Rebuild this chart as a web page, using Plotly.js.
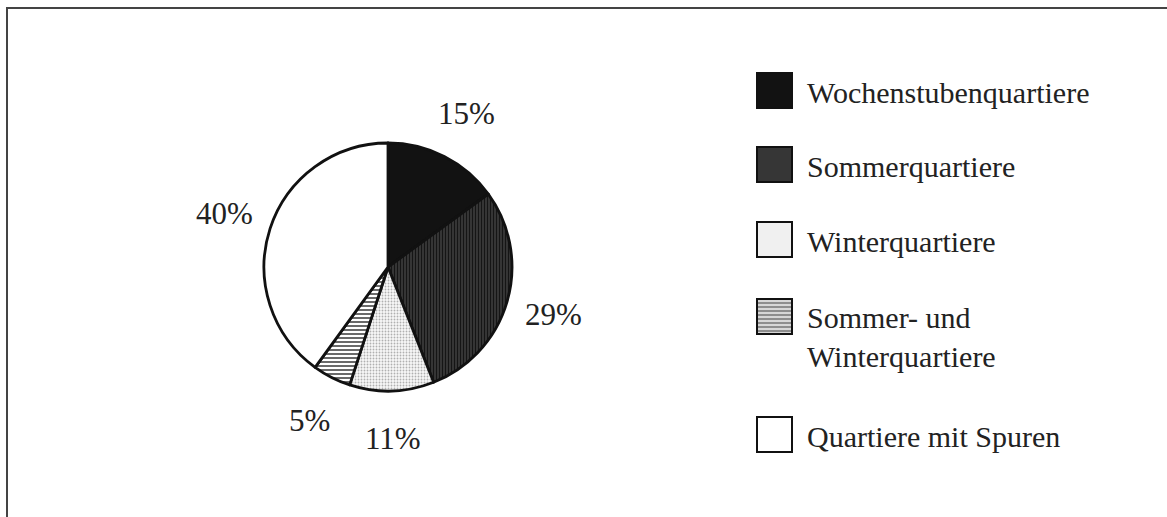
<!DOCTYPE html>
<html>
<head>
<meta charset="utf-8">
<script src="https://cdn.plot.ly/plotly-3.0.1.min.js"></script>
<style>
  html, body { margin: 0; padding: 0; background: #fff; }
  #chart { width: 1167px; height: 517px; }
</style>
</head>
<body>
<div id="chart"></div>
<script>
// Roost types and their share of all recorded roosts (percent)
const categories = [
  'Wochenstubenquartiere',
  'Sommerquartiere',
  'Winterquartiere',
  'Sommer- und<br>Winterquartiere',
  'Quartiere mit Spuren'
];
const shares = [15, 29, 11, 5, 40];

// Fill styles per slice
const sliceColors   = ['#121212', '#444444', '#f8f8f8', '#ffffff', '#ffffff'];
const patternShapes = ['', '|', '.', '-', ''];
const patternFg     = ['#121212', '#151515', '#b0b0b0', '#2a2a2a', '#ffffff'];
const patternSize   = [6, 3, 3, 4, 6];
const patternSolid  = [0.3, 0.55, 0.3, 0.35, 0.3];
// Flat colours for the key swatches
const swatchColors  = ['#121212', '#363636', '#f0f0f0', '#d6d6d6', '#ffffff'];

const W = 1167, H = 517;
const cx = 388, cy = 250, R = 124;          // pie centre (px from left / bottom) and radius
const labelR = 172;                          // distance of percent labels from centre
const serif = 'Liberation Serif, Times New Roman, serif';

const pie = {
  type: 'pie',
  labels: categories,
  values: shares,
  sort: false,
  direction: 'clockwise',
  rotation: 0,
  textinfo: 'none',
  hoverinfo: 'label+percent',
  showlegend: false,
  domain: { x: [(cx - R) / W, (cx + R) / W], y: [(cy - R) / H, (cy + R) / H] },
  marker: {
    colors: sliceColors,
    line: { color: '#111', width: 2.8 },
    pattern: {
      shape: patternShapes,
      fgcolor: patternFg,
      bgcolor: sliceColors,
      size: patternSize,
      solidity: patternSolid,
      fillmode: 'replace'
    }
  }
};

// Percent labels placed along each slice's middle angle
const total = shares.reduce((a, b) => a + b, 0);
const annotations = [];
let acc = 0;
shares.forEach(v => {
  const mid = (acc + v / 2) / total * 2 * Math.PI;
  acc += v;
  annotations.push({
    xref: 'paper', yref: 'paper',
    x: (cx + labelR * Math.sin(mid)) / W,
    y: (cy + labelR * Math.cos(mid)) / H,
    text: Math.round(v / total * 100) + '%',
    showarrow: false,
    xanchor: 'center', yanchor: 'middle',
    font: { family: serif, size: 31, color: '#222' }
  });
});

// Key: swatch rectangles with their labels
const keyTops = [73, 147, 222, 299, 417];   // swatch top edges, px from top
const swX0 = 757, swW = 35, swH = 35, textX = 805;
const shapes = [];
categories.forEach((name, i) => {
  const t = keyTops[i];
  shapes.push({
    type: 'rect', xref: 'paper', yref: 'paper',
    x0: swX0 / W, x1: (swX0 + swW) / W,
    y0: 1 - (t + swH) / H, y1: 1 - t / H,
    fillcolor: swatchColors[i],
    line: { color: '#111', width: 2 }
  });
  // horizontal hatching on the combined summer/winter swatch
  if (patternShapes[i] === '-') {
    for (let k = 4; k < swH - 2; k += 4) {
      shapes.push({
        type: 'line', xref: 'paper', yref: 'paper',
        x0: (swX0 + 1) / W, x1: (swX0 + swW - 1) / W,
        y0: 1 - (t + k) / H, y1: 1 - (t + k) / H,
        line: { color: '#444', width: 1 }
      });
    }
  }
  annotations.push({
    xref: 'paper', yref: 'paper',
    x: textX / W, y: 1 - (t + swH / 2 + 2) / H,
    text: name,
    showarrow: false,
    align: 'left',
    xanchor: 'left', yanchor: i === 3 ? 'top' : 'middle',
    yshift: i === 3 ? 20 : 0,
    font: { family: serif, size: 30, color: '#222' }
  });
});

// Outer frame
shapes.push({
  type: 'rect', xref: 'paper', yref: 'paper',
  x0: 7 / W, x1: 1.02, y0: -0.02, y1: 1 - 8 / H,
  line: { color: '#444', width: 2 }, fillcolor: 'rgba(0,0,0,0)'
});

const layout = {
  width: W, height: H,
  margin: { l: 0, r: 0, t: 0, b: 0 },
  paper_bgcolor: '#fff',
  plot_bgcolor: '#fff',
  showlegend: false,
  shapes: shapes,
  annotations: annotations
};

Plotly.newPlot('chart', [pie], layout, { displayModeBar: false, staticPlot: true });
</script>
</body>
</html>
